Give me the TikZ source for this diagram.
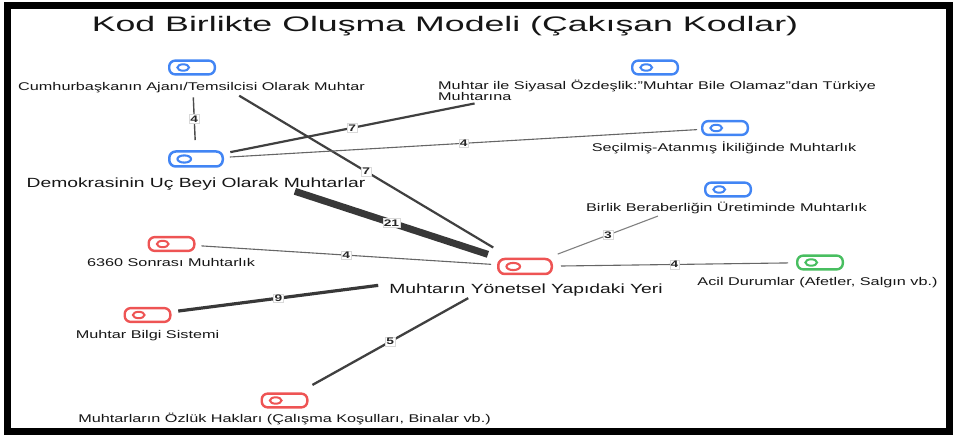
\documentclass[tikz,border=0pt]{standalone}
\usepackage{fontspec}
\setmainfont[FakeStretch=1.45]{Liberation Sans}
\newfontfamily\titlefont[FakeStretch=1.7]{Liberation Sans}
\definecolor{cblue}{RGB}{66,133,244}
\definecolor{cred}{RGB}{238,84,84}
\definecolor{cgreen}{RGB}{72,190,96}
\definecolor{ink}{RGB}{22,22,22}
\begin{document}
\begin{tikzpicture}[x=1pt,y=-1pt,
  icon/.style={draw=#1, fill=white, line width=2.4pt, rounded corners=6pt,
    minimum width=45.6pt, minimum height=13.8pt, inner sep=0pt,
    path picture={\draw[#1,line width=2pt] ([xshift=14pt]path picture bounding box.west) ellipse (5.8pt and 3.2pt);}},
  bigicon/.style={draw=#1, fill=white, line width=2.5pt, rounded corners=6.5pt,
    minimum width=53.5pt, minimum height=15pt, inner sep=0pt,
    path picture={\draw[#1,line width=2.1pt] ([xshift=15pt]path picture bounding box.west) ellipse (6.8pt and 3.6pt);}},
  lbl/.style={inner sep=0pt, text=ink, font=\fontsize{11.2}{10.2}\selectfont},
  biglbl/.style={inner sep=0pt, text=ink, font=\fontsize{13.3}{14}\selectfont},
  elab/.style={fill=white, draw=black!15, line width=0.4pt, inner sep=1pt, text=black!85,
    font=\bfseries\fontsize{9.5}{10}\selectfont},
  ed/.style n args={4}{line width=#1, draw=#2, shorten <=#3, shorten >=#4}
]
\useasboundingbox (0,0) rectangle (953,435);
\draw[line width=7pt] (7.5,6) rectangle (949.5,431);

\node[anchor=base, text=ink, font=\titlefont\fontsize{21}{24}\selectfont] (T) at (445,31.7)
  {Kod Birlikte Oluşma Modeli (Çakışan Kodlar)};

% icons
\node[icon=cblue] (A) at (192,67.5) {};
\node[bigicon=cblue] (B) at (196,159) {};
\node[icon=cblue] (C) at (655,67.5) {};
\node[icon=cblue] (D) at (725,128) {};
\node[icon=cblue] (E) at (728,189.5) {};
\node[bigicon=cred] (M) at (525,266.5) {};
\node[icon=cgreen] (F) at (820,262.5) {};
\node[icon=cred] (G) at (171.5,244) {};
\node[icon=cred] (H) at (147.5,315) {};
\node[icon=cred] (I) at (284.5,400.5) {};

% labels
\node[lbl, anchor=base] (Al) at (191.5,90.7) {Cumhurbaşkanın Ajanı/Temsilcisi Olarak Muhtar};
\node[biglbl, anchor=base] (Bl) at (196,187.3) {Demokrasinin Uç Beyi Olarak Muhtarlar};
\node[lbl, anchor=base west, align=left] (Cl) at (438,100.7) {Muhtar ile Siyasal Özdeşlik:"Muhtar Bile Olamaz"dan Türkiye\\Muhtarına};
\node[lbl, anchor=base] (Dl) at (724,151.5) {Seçilmiş-Atanmış İkiliğinde Muhtarlık};
\node[lbl, anchor=base] (El) at (726.5,211.7) {Birlik Beraberliğin Üretiminde Muhtarlık};
\node[biglbl, anchor=base] (Ml) at (526,293.3) {Muhtarın Yönetsel Yapıdaki Yeri};
\node[lbl, anchor=base] (Fl) at (817.5,285.7) {Acil Durumlar (Afetler, Salgın vb.)};
\node[lbl, anchor=base] (Gl) at (171,266.7) {6360 Sonrası Muhtarlık};
\node[lbl, anchor=base] (Hl) at (147.5,338.3) {Muhtar Bilgi Sistemi};
\node[lbl, anchor=base] (Il) at (284.5,422.7) {Muhtarların Özlük Hakları (Çalışma Koşulları, Binalar vb.)};

% connectors
\draw[ed={1.4pt}{black!70}{30pt}{19pt}] (A.center) -- node[elab,pos=.56]{4} (B.center);
\draw[ed={2.2pt}{black!75}{55pt}{37pt}] (A.center) -- node[elab,pos=.523]{7} (M.center);
\draw[ed={2.2pt}{black!75}{35pt}{184pt}] (B.center) -- node[elab,pos=.3405]{7} (C.center);
\draw[ed={1.1pt}{black!60}{34pt}{28pt}] (B.center) -- node[elab,pos=.506]{4} (D.center);
\draw[ed={7pt}{black!78}{104pt}{39pt}] (B.center) -- node[elab,pos=.594]{21} (M.center);
\draw[ed={1.1pt}{black!50}{35pt}{75pt}] (M.center) -- node[elab,pos=.409]{3} (E.center);
\draw[ed={1.1pt}{black!60}{36pt}{32pt}] (M.center) -- node[elab,pos=.507]{4} (F.center);
\draw[ed={1.1pt}{black!60}{30pt}{34pt}] (G.center) -- node[elab,pos=.494]{4} (M.center);
\draw[ed={3.2pt}{black!78}{31pt}{148pt}] (H.center) -- node[elab,pos=.347]{9} (M.center);
\draw[ed={2.3pt}{black!75}{32pt}{65pt}] (I.center) -- node[elab,pos=.439]{5} (M.center);
\end{tikzpicture}
\end{document}
